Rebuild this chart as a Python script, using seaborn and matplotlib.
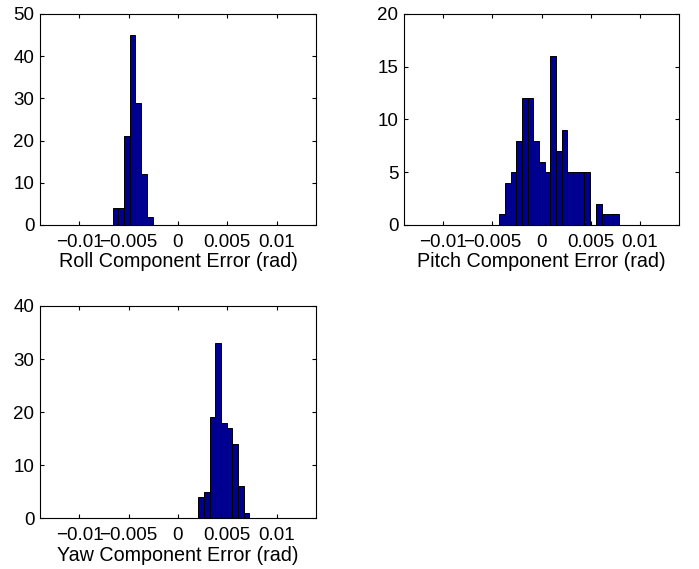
import numpy as np
import pandas as pd
import matplotlib
matplotlib.use("Agg")
import matplotlib.pyplot as plt
import seaborn as sns

# Common histogram bins (MATLAB-style hist)
BIN_START = -0.007204
BIN_WIDTH = 0.000578
N_BINS = 26

roll_counts = [0, 4, 4, 21, 45, 29, 12, 2, 0, 0, 0, 0, 0,
               0, 0, 0, 0, 0, 0, 0, 0, 0, 0, 0, 0, 0]
pitch_counts = [0, 0, 0, 0, 0, 1, 4, 5, 8, 12, 12, 8, 6,
                5, 16, 7, 9, 5, 5, 5, 5, 0, 2, 1, 1, 1]
yaw_counts = [0, 0, 0, 0, 0, 0, 0, 0, 0, 0, 0, 0, 0,
              0, 0, 0, 4, 5, 19, 33, 18, 17, 14, 6, 1, 0]

x_ticks = [-0.01, -0.005, 0, 0.005, 0.01]
x_tick_labels = ["\u22120.01", "\u22120.005", "0", "0.005", "0.01"]
x_limits = (-0.014, 0.014)

roll_yticks = [0, 10, 20, 30, 40, 50]
pitch_yticks = [0, 5, 10, 15, 20]
yaw_yticks = [0, 10, 20, 30, 40]

xlabels = ["Roll Component Error (rad)", "Pitch Component Error (rad)",
           "Yaw Component Error (rad)"]

sns.set_theme(style="white")
plt.rcParams["font.family"] = ["Liberation Sans", "DejaVu Sans"]
plt.rcParams["axes.edgecolor"] = "black"
plt.rcParams["axes.linewidth"] = 0.8

W, H = 699, 569
fig = plt.figure(figsize=(W / 100, H / 100), dpi=100)

def rect(l, t, r, b):
    return [l / W, 1 - b / H, (r - l) / W, (b - t) / H]

ax1 = fig.add_axes(rect(40, 14, 316, 225))
ax2 = fig.add_axes(rect(404, 14, 679.3, 225))
ax3 = fig.add_axes(rect(40, 306, 316, 518.3))

edges = BIN_START + BIN_WIDTH * np.arange(N_BINS + 1)
centers = (edges[:-1] + edges[1:]) / 2

FS_TICK = 13.5
FS_LABEL = 14.2
for ax, counts, yt, xl in [(ax1, roll_counts, roll_yticks, xlabels[0]),
                           (ax2, pitch_counts, pitch_yticks, xlabels[1]),
                           (ax3, yaw_counts, yaw_yticks, xlabels[2])]:
    df = pd.DataFrame({"x": centers, "w": np.asarray(counts, dtype=float)})
    sns.histplot(data=df, x="x", weights="w", bins=list(edges), ax=ax,
                 color="#000090", edgecolor="black", linewidth=0.7,
                 alpha=1.0)
    ax.set_xlim(*x_limits)
    ax.set_ylim(yt[0], yt[-1])
    ax.set_xticks(x_ticks)
    ax.set_xticklabels(x_tick_labels)
    ax.set_yticks(yt)
    ax.set_yticklabels([str(v) for v in yt])
    ax.tick_params(axis="both", direction="in", length=3, width=0.8,
                   colors="black", labelsize=FS_TICK, top=True, right=True,
                   bottom=True, left=True)
    ax.tick_params(axis="x", pad=6.5)
    ax.tick_params(axis="y", pad=4)
    ax.set_ylabel("")
    ax.set_xlabel(xl, fontsize=FS_LABEL, labelpad=1, color="black")
    for s in ax.spines.values():
        s.set_visible(True)
        s.set_color("black")
        s.set_linewidth(0.8)

fig.savefig("out.png", dpi=100, facecolor="white")
